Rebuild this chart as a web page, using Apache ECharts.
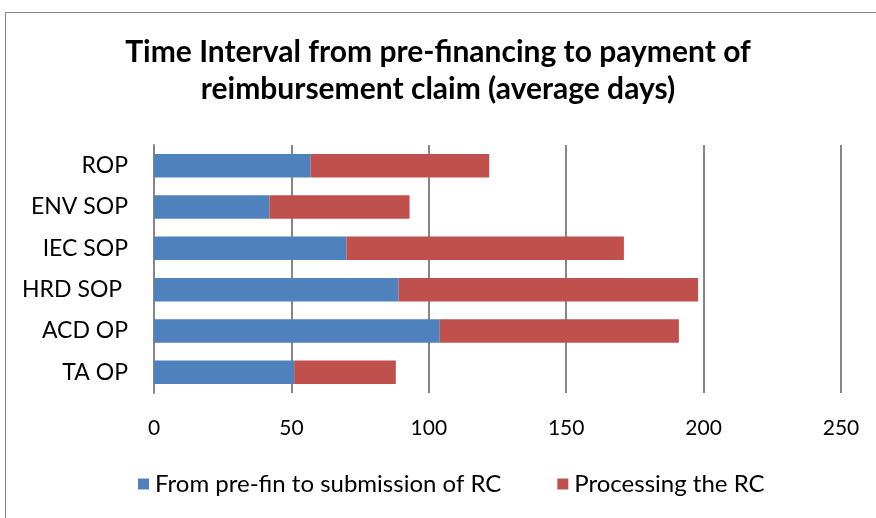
<!DOCTYPE html>
<html>
<head>
<meta charset="utf-8">
<script src="https://cdn.jsdelivr.net/npm/echarts@6.0.0/dist/echarts.min.js"></script>
<style>
  html, body { margin: 0; padding: 0; background: #fff; }
  #chart { width: 876px; height: 518px; }
</style>
</head>
<body>
<div id="chart"></div>
<script>
  // categories, bottom to top as drawn
  const categories = ["TA OP", "ACD OP", "HRD SOP ", "IEC SOP", "ENV SOP", "ROP"];
  const submissionDays = [51, 104, 89, 70, 42, 57];
  const processingDays = [37, 87, 109, 101, 51, 65];
  const xTicks = [0, 50, 100, 150, 200, 250];

  const font = "Lato, 'Open Sans', sans-serif";
  const chart = echarts.init(document.getElementById("chart"));

  chart.setOption({
    animation: false,
    backgroundColor: "#fff",
    title: {
      text: "Time Interval from pre-financing to payment of\nreimbursement claim (average days)",
      left: "center",
      top: 29,
      textStyle: {
        fontFamily: font,
        fontWeight: "bold",
        fontSize: 30,
        lineHeight: 37,
        color: "#000"
      }
    },
    legend: {
      bottom: 17,
      left: 133,
      itemWidth: 11,
      itemHeight: 11,
      itemGap: 56,
      icon: "rect",
      textStyle: { fontFamily: font, fontSize: 24, color: "#000", padding: [0, 0, 0, 1] },
      data: ["From pre-fin to submission of RC", "Processing the RC"]
    },
    grid: { left: 154, right: 35, top: 145, bottom: 125 },
    xAxis: {
      type: "value",
      min: xTicks[0],
      max: xTicks[xTicks.length - 1],
      interval: 50,
      axisLine: { show: false },
      axisTick: { show: false },
      axisLabel: { fontFamily: font, fontSize: 21, color: "#000", margin: 25 },
      splitLine: { lineStyle: { color: "#868686", width: 2 } }
    },
    yAxis: {
      type: "category",
      data: categories,
      axisLine: { show: true, lineStyle: { color: "#868686", width: 2 } },
      axisTick: { show: false },
      axisLabel: { fontFamily: font, fontSize: 23, color: "#000", margin: 26 }
    },
    series: [
      {
        name: "From pre-fin to submission of RC",
        type: "bar",
        stack: "t",
        barWidth: "57%",
        itemStyle: { color: "#4f81bd" },
        data: submissionDays
      },
      {
        name: "Processing the RC",
        type: "bar",
        stack: "t",
        itemStyle: { color: "#c0504d" },
        data: processingDays
      }
    ],
    graphic: [{
      type: "rect",
      shape: { x: 5.5, y: 12.5, width: 900, height: 600 },
      style: { fill: "none", stroke: "#868686", lineWidth: 1 },
      silent: true
    }]
  });
</script>
</body>
</html>
